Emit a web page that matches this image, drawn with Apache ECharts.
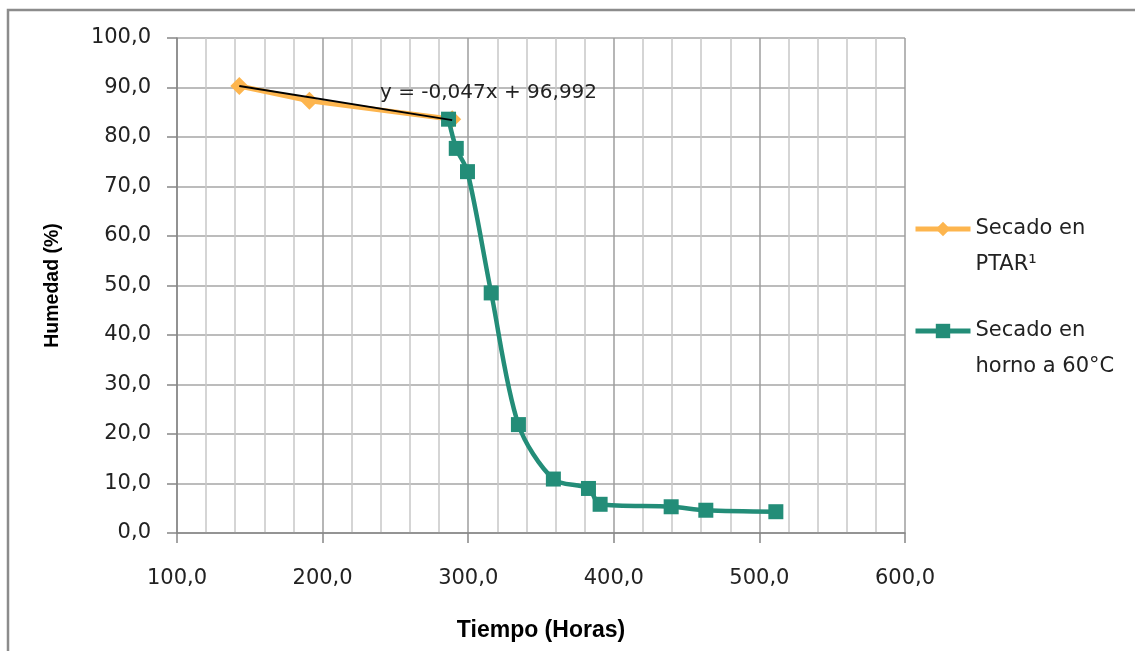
<!DOCTYPE html>
<html>
<head>
<meta charset="utf-8">
<script src="https://cdn.jsdelivr.net/npm/echarts@6/dist/echarts.min.js"></script>
<style>
  html, body { margin: 0; padding: 0; background: #fff; }
  #chart { width: 1135px; height: 651px; }
</style>
</head>
<body>
<div id="chart"></div>
<script>
// Drying curves: moisture (%) vs time (hours)
const ptarTime = [142.8, 190.9, 289.0];
const ptarMoisture = [90.3, 87.3, 83.6];

const ovenTime = [286.5, 291.8, 299.5, 315.8, 334.5, 358.5, 382.6, 390.6, 439.4, 463.2, 511.3];
const ovenMoisture = [83.6, 77.7, 73.0, 48.5, 21.9, 10.9, 9.0, 5.8, 5.3, 4.6, 4.3];

// Linear trend fitted to the PTAR series
const trendSlope = -0.047;
const trendIntercept = 96.992;

const seriesNames = ['Secado en\nPTAR\u00b9', 'Secado en\nhorno a 60\u00b0C'];
const xTicks = [100, 200, 300, 400, 500, 600];
const yTicks = [0, 10, 20, 30, 40, 50, 60, 70, 80, 90, 100];

const FONT = '"DejaVu Sans", sans-serif';
const TITLE_FONT = '"Liberation Sans", Arial, sans-serif';
const fmt = v => v.toFixed(1).replace('.', ',');
const fmtCoef = v => String(v).replace('.', ',');

const tMin = Math.min(...ptarTime), tMax = Math.max(...ptarTime);
const trendData = [tMin, tMax].map(t => [t, trendSlope * t + trendIntercept]);

const chart = echarts.init(document.getElementById('chart'), null, { renderer: 'canvas' });
chart.setOption({
  animation: false,
  backgroundColor: '#fff',
  grid: { left: 177, right: 230, top: 38, bottom: 118 },
  xAxis: {
    type: 'value',
    min: xTicks[0], max: xTicks[xTicks.length - 1], interval: 100,
    name: 'Tiempo (Horas)', nameLocation: 'middle', nameGap: 86,
    nameTextStyle: { fontFamily: TITLE_FONT, fontWeight: 'bold', fontSize: 23, color: '#000' },
    axisLine: { onZero: false, lineStyle: { color: '#868686', width: 1.5 } },
    axisTick: { show: true, length: 10, lineStyle: { color: '#868686', width: 1.5 } },
    axisLabel: { formatter: fmt, fontFamily: FONT, fontSize: 21, color: '#222', margin: 35 },
    splitLine: { show: true, lineStyle: { color: '#9e9e9e', width: 1.5 } },
    minorTick: { show: false, splitNumber: 5 },
    minorSplitLine: { show: true, lineStyle: { color: '#c8c8c8', width: 1.5 } }
  },
  yAxis: {
    type: 'value',
    min: yTicks[0], max: yTicks[yTicks.length - 1], interval: 10,
    name: 'Humedad (%)', nameLocation: 'middle', nameGap: 114, nameRotate: 90,
    nameTextStyle: { fontFamily: TITLE_FONT, fontWeight: 'bold', fontSize: 19.5, color: '#000' },
    axisLine: { show: true, lineStyle: { color: '#868686', width: 1.5 } },
    axisTick: { show: true, length: 10, lineStyle: { color: '#868686', width: 1.5 } },
    axisLabel: { formatter: fmt, fontFamily: FONT, fontSize: 21, color: '#222', margin: 26 },
    splitLine: { show: true, lineStyle: { color: '#a6a6a6', width: 1.5 } }
  },
  legend: {
    orient: 'vertical', left: 913, top: 175, padding: 0,
    itemWidth: 55, itemHeight: 18, itemGap: -6,
    // leading blank line keeps the symbol level with the first text line
    formatter: name => '\n' + name,
    lineStyle: { width: 5 },
    textStyle: { fontFamily: FONT, fontSize: 21, color: '#222', lineHeight: 36 },
    data: seriesNames
  },
  series: [
    {
      name: seriesNames[0], type: 'line', z: 2,
      data: ptarTime.map((t, i) => [t, ptarMoisture[i]]),
      symbol: 'diamond', symbolSize: 18,
      itemStyle: { color: '#fdb54e' },
      lineStyle: { color: '#fdb54e', width: 5 }
    },
    {
      name: seriesNames[1], type: 'line', z: 3,
      data: ovenTime.map((t, i) => [t, ovenMoisture[i]]),
      smooth: 0.3,
      symbol: 'rect', symbolSize: 15,
      itemStyle: { color: '#238d78' },
      lineStyle: { color: '#238d78', width: 4.5 }
    },
    {
      name: 'trend', type: 'line', z: 4,
      data: trendData, symbol: 'none', silent: true,
      lineStyle: { color: '#000', width: 2 }
    }
  ],
  graphic: [
    {
      type: 'text', left: 380, top: 83, z: 10,
      style: {
        text: 'y = ' + fmtCoef(trendSlope) + 'x + ' + fmtCoef(trendIntercept),
        font: '20px ' + FONT, fill: '#222'
      }
    },
    {
      type: 'polyline', z: 10,
      shape: { points: [[8, 651], [8, 10], [1135, 10]] },
      style: { stroke: '#8c8c8c', lineWidth: 2.5, fill: null }
    }
  ]
});
</script>
</body>
</html>
